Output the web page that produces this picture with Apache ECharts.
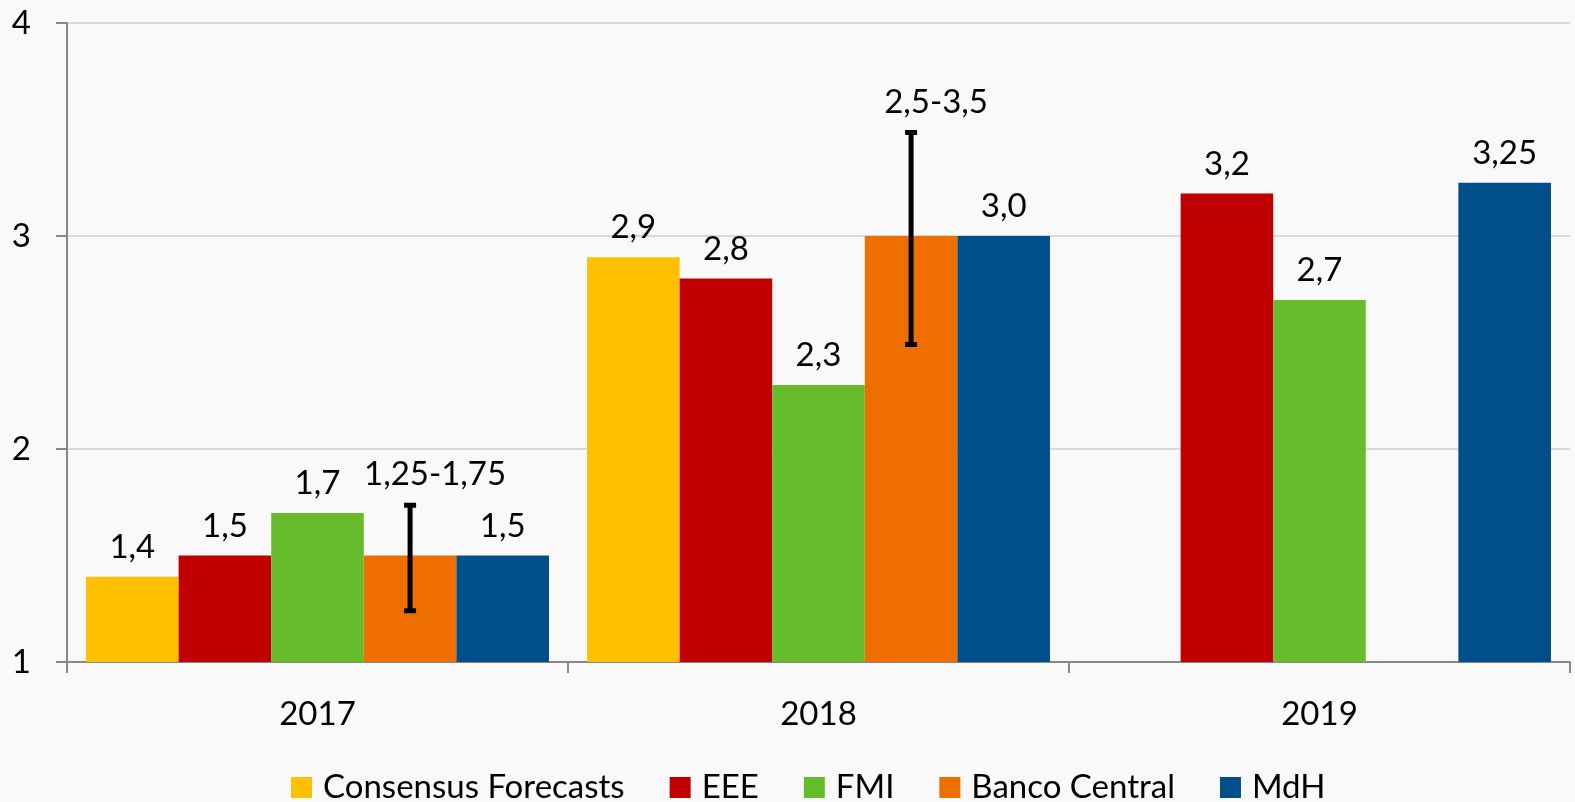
<!DOCTYPE html>
<html>
<head>
<meta charset="utf-8">
<script src="https://cdn.jsdelivr.net/npm/echarts@6/dist/echarts.min.js"></script>
<style>
html,body{margin:0;padding:0;background:#f9f9f9;}
#chart{width:1575px;height:802px;}
</style>
</head>
<body>
<div id="chart"></div>
<script>
const categories = ['2017', '2018', '2019'];
const seriesNames = ['Consensus Forecasts', 'EEE', 'FMI', 'Banco Central', 'MdH'];
const consensus = [1.4, 2.9, null];
const eee = [1.5, 2.8, 3.2];
const fmi = [1.7, 2.3, 2.7];
const bancoCentral = [1.5, 3.0, null];
const mdh = [1.5, 3.0, 3.25];
const bancoLow = [1.25, 2.5, null];
const bancoHigh = [1.75, 3.5, null];
const bancoRangeLabels = ['1,25-1,75', '2,5-3,5', ''];
const yTicks = [1, 2, 3, 4];

const colors = ['#FFC000', '#C00000', '#67BC2C', '#EE6F00', '#004F8A'];
const FONT = "Lato, 'Open Sans', sans-serif";
const FS = 33;
const GAP = 0.076;

function fmt(v) {
  if (v == null) return '';
  const s = (Math.round(v * 100) % 10 !== 0) ? v.toFixed(2) : v.toFixed(1);
  return s.replace('.', ',');
}

const values = [consensus, eee, fmi, bancoCentral, mdh];
const barSeries = seriesNames.map((name, i) => ({
  name: name,
  type: 'bar',
  data: values[i],
  barGap: '0%',
  barCategoryGap: (GAP * 100) + '%',
  itemStyle: { color: colors[i] },
  label: {
    show: name !== 'Banco Central',
    position: 'top',
    distance: 13,
    color: '#000',
    fontFamily: FONT,
    fontSize: FS,
    formatter: p => fmt(p.value)
  }
}));

const errData = categories.map((c, i) => [i, bancoLow[i], bancoHigh[i], bancoRangeLabels[i]])
  .filter(d => d[1] != null);

const errSeries = {
  type: 'custom',
  name: 'err',
  data: errData,
  encode: { x: 0, y: [1, 2] },
  z: 10,
  renderItem: function (params, api) {
    const idx = api.value(0);
    const lowP = api.coord([idx, api.value(1)]);
    const highP = api.coord([idx, api.value(2)]);
    const band = api.size([1, 0])[0];
    const bw = band * (1 - GAP) / 5;
    const x = lowP[0] + bw * 1; // Banco Central slot is 4th of 5
    const cap = 6;
    const st = { stroke: '#000', lineWidth: 5 };
    return {
      type: 'group',
      children: [
        { type: 'line', shape: { x1: x, y1: lowP[1] + 2, x2: x, y2: highP[1] + 3 }, style: st },
        { type: 'line', shape: { x1: x - cap, y1: lowP[1] + 2, x2: x + cap, y2: lowP[1] + 2 }, style: st },
        { type: 'line', shape: { x1: x - cap, y1: highP[1] + 3, x2: x + cap, y2: highP[1] + 3 }, style: st },
        { type: 'text', style: { text: errData.find(d => d[0] === idx)[3], x: x + bw * 0.27, y: highP[1] - 11,
          align: 'center', verticalAlign: 'bottom', fill: '#000', font: FS + 'px ' + FONT } }
      ]
    };
  }
};

const chart = echarts.init(document.getElementById('chart'));
chart.setOption({
  backgroundColor: '#f9f9f9',
  animation: false,
  textStyle: { fontFamily: FONT },
  legend: {
    data: seriesNames,
    left: 286,
    top: 766,
    itemWidth: 21,
    itemHeight: 21,
    itemGap: 45,
    icon: 'rect',
    textStyle: { fontSize: FS, color: '#000', fontFamily: FONT, padding: [0, 0, 0, 6] }
  },
  grid: { left: 67, right: 5, top: 23, bottom: 140, containLabel: false },
  xAxis: {
    type: 'category',
    data: categories,
    axisLine: { lineStyle: { color: '#888', width: 2 } },
    axisTick: { show: true, length: 11, lineStyle: { color: '#888', width: 2 } },
    axisLabel: { color: '#000', fontSize: FS, margin: 36, fontFamily: FONT }
  },
  yAxis: {
    type: 'value',
    min: yTicks[0],
    max: yTicks[yTicks.length - 1],
    interval: 1,
    axisLine: { show: true, lineStyle: { color: '#888', width: 2 } },
    axisTick: { show: true, length: 11, lineStyle: { color: '#888', width: 2 } },
    splitLine: { lineStyle: { color: '#d9d9d9', width: 2 } },
    axisLabel: { color: '#000', fontSize: FS, margin: 36, fontFamily: FONT }
  },
  series: barSeries.concat([errSeries])
});
</script>
</body>
</html>
